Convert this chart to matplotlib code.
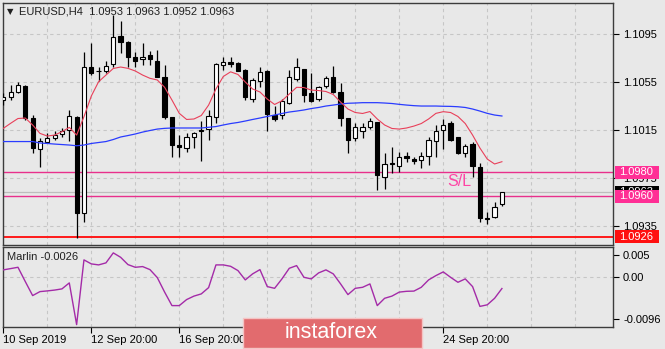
import matplotlib
matplotlib.use("Agg")
import matplotlib.pyplot as plt
from matplotlib.patches import Rectangle
from matplotlib.transforms import blended_transform_factory
import numpy as np

plt.rcParams['font.family'] = ['Liberation Sans', 'DejaVu Sans']

# ---- EURUSD H4 candles ----
opens = [1.10400, 1.10428, 1.10469, 1.10517, 1.10248, 1.09992, 1.10053, 1.10081, 1.10117, 1.10150,
         1.10256, 1.09461, 1.10678, 1.10646, 1.10642, 1.10698, 1.10933, 1.10881, 1.10756, 1.10742,
         1.10775, 1.10728, 1.10589, 1.10256, 1.10022, 1.09997, 1.10094, 1.10150, 1.10158, 1.10256,
         1.10692, 1.10719, 1.10711, 1.10650, 1.10406, 1.10561, 1.10644, 1.10275, 1.10275, 1.10378,
         1.10575, 1.10658, 1.10461, 1.10406, 1.10519, 1.10589, 1.10469, 1.10248, 1.10081, 1.10144,
         1.10178, 1.10214, 1.09761, 1.09873, 1.09853, 1.09936, 1.09906, 1.09900, 1.09936, 1.10058,
         1.10150, 1.10206, 1.10094, 1.09961, 1.10031, 1.09844, 1.09414, 1.09422, 1.09530]
highs = [1.10458, 1.10525, 1.10553, 1.10525, 1.10275, 1.10086, 1.10128, 1.10144, 1.10164, 1.10317,
         1.10267, 1.10803, 1.10878, 1.10678, 1.10728, 1.11108, 1.11061, 1.10892, 1.10803, 1.10875,
         1.10811, 1.10817, 1.10692, 1.10256, 1.10108, 1.10122, 1.10136, 1.10225, 1.10317, 1.10711,
         1.10756, 1.10756, 1.10719, 1.10656, 1.10581, 1.10678, 1.10650, 1.10350, 1.10406, 1.10650,
         1.10748, 1.10658, 1.10623, 1.10517, 1.10600, 1.10683, 1.10539, 1.10253, 1.10206, 1.10206,
         1.10253, 1.10219, 1.09956, 1.10011, 1.09969, 1.09969, 1.09928, 1.09969, 1.10094, 1.10192,
         1.10239, 1.10225, 1.10094, 1.10031, 1.10053, 1.09873, 1.09469, 1.09553, 1.09630]
lows = [1.10358, 1.10400, 1.10456, 1.10233, 1.09961, 1.09839, 1.10044, 1.10067, 1.10094, 1.10061,
        1.09253, 1.09386, 1.10608, 1.10558, 1.10628, 1.10678, 1.10789, 1.10678, 1.10678, 1.10692,
        1.10692, 1.10589, 1.10242, 1.09928, 1.09928, 1.09969, 1.10003, 1.09894, 1.10067, 1.10206,
        1.10650, 1.10678, 1.10638, 1.10400, 1.10386, 1.10506, 1.10144, 1.10225, 1.10242, 1.10364,
        1.10561, 1.10386, 1.10386, 1.10392, 1.10498, 1.10461, 1.10183, 1.09956, 1.10058, 1.10081,
        1.10158, 1.09650, 1.09658, 1.09789, 1.09803, 1.09886, 1.09864, 1.09836, 1.09858, 1.09928,
        1.09989, 1.10058, 1.09950, 1.09928, 1.09761, 1.09386, 1.09364, 1.09414, 1.09520]
closes = [1.10425, 1.10469, 1.10525, 1.10253, 1.10003, 1.10061, 1.10086, 1.10108, 1.10142, 1.10267,
          1.09456, 1.10678, 1.10623, 1.10642, 1.10686, 1.10928, 1.10881, 1.10756, 1.10725, 1.10756,
          1.10742, 1.10594, 1.10258, 1.10025, 1.10006, 1.10094, 1.10122, 1.10142, 1.10267, 1.10700,
          1.10714, 1.10698, 1.10644, 1.10422, 1.10567, 1.10631, 1.10283, 1.10242, 1.10394, 1.10589,
          1.10672, 1.10442, 1.10394, 1.10506, 1.10581, 1.10469, 1.10253, 1.10067, 1.10172, 1.10172,
          1.10225, 1.09775, 1.09867, 1.09864, 1.09928, 1.09919, 1.09894, 1.09936, 1.10067, 1.10142,
          1.10192, 1.10067, 1.09956, 1.10019, 1.09853, 1.09414, 1.09408, 1.09511, 1.09630]

# ---- moving averages (fast red, slow blue) ----
ma_fast = [1.10164, 1.10206, 1.10246, 1.10250, 1.10192, 1.10122, 1.10100, 1.10108, 1.10136, 1.10172,
           1.10108, 1.10261, 1.10433, 1.10553, 1.10608, 1.10663, 1.10675, 1.10664, 1.10642, 1.10608,
           1.10581, 1.10567, 1.10506, 1.10400, 1.10289, 1.10238, 1.10242, 1.10271, 1.10358, 1.10492,
           1.10596, 1.10635, 1.10613, 1.10550, 1.10492, 1.10467, 1.10408, 1.10363, 1.10394, 1.10450,
           1.10506, 1.10504, 1.10483, 1.10479, 1.10471, 1.10446, 1.10383, 1.10325, 1.10296, 1.10288,
           1.10304, 1.10242, 1.10192, 1.10163, 1.10158, 1.10167, 1.10183, 1.10204, 1.10242, 1.10289,
           1.10303, 1.10296, 1.10263, 1.10204, 1.10108, 1.10000, 1.09908, 1.09867, 1.09886]
ma_slow = [1.10054, 1.10054, 1.10054, 1.10054, 1.10054, 1.10042, 1.10038, 1.10033, 1.10029, 1.10025,
           1.10019, 1.10025, 1.10038, 1.10046, 1.10054, 1.10071, 1.10092, 1.10104, 1.10117, 1.10133,
           1.10146, 1.10158, 1.10164, 1.10167, 1.10167, 1.10167, 1.10167, 1.10167, 1.10173, 1.10179,
           1.10192, 1.10204, 1.10213, 1.10225, 1.10238, 1.10250, 1.10263, 1.10275, 1.10288, 1.10300,
           1.10308, 1.10317, 1.10329, 1.10338, 1.10350, 1.10358, 1.10367, 1.10373, 1.10375, 1.10378,
           1.10378, 1.10378, 1.10375, 1.10371, 1.10364, 1.10358, 1.10353, 1.10350, 1.10350, 1.10350,
           1.10348, 1.10347, 1.10344, 1.10338, 1.10325, 1.10308, 1.10289, 1.10275, 1.10267]

# ---- Marlin oscillator ----
marlin = [0.00164, 0.00193, 0.00223, -0.00102, -0.00420, -0.00330, -0.00314, -0.00295, -0.00268, -0.00132,
          -0.01080, 0.00391, 0.00300, 0.00277, 0.00323, 0.00550, 0.00450, 0.00284, 0.00223, 0.00239,
          0.00170, -0.00011, -0.00341, -0.00648, -0.00648, -0.00511, -0.00432, -0.00382, -0.00239, 0.00277,
          0.00277, 0.00245, 0.00148, -0.00064, 0.00073, 0.00170, -0.00216, -0.00255, -0.00041, 0.00200,
          0.00261, -0.00005, -0.00041, 0.00095, 0.00164, 0.00073, -0.00155, -0.00398, -0.00255, -0.00232,
          -0.00155, -0.00648, -0.00482, -0.00432, -0.00341, -0.00323, -0.00318, -0.00232, -0.00064, 0.00034,
          0.00118, -0.00005, -0.00118, -0.00041, -0.00216, -0.00666, -0.00630, -0.00482, -0.00260]

date_ticks = [0, 12, 24, 60]
date_labels = ['10 Sep 2019', '12 Sep 20:00', '16 Sep 20:00', '24 Sep 20:00']
price_ticks = [1.1095, 1.1055, 1.1015, 1.0975, 1.0935]
marlin_ticks = [0.005, 0.0, -0.0096]
marlin_tick_labels = ['0.005', '0.00', '-0.0096']

stop_level = 1.0980
entry_level = 1.0960
target_level = 1.0926
bid = 1.0963

W, H = 665, 349
BG = '#e8e8e8'
GRID = '#c6c6c6'
FRAME = '#3c3c3c'


def fx(px):
    return px / W


def fy(py):
    return 1 - py / H


fig = plt.figure(figsize=(W / 100, H / 100), dpi=100, facecolor=BG)
ax = fig.add_axes([fx(2.7), fy(245), fx(613.3) - fx(2.7), fy(2.7) - fy(245)], facecolor=BG)
ax2 = fig.add_axes([fx(2.7), fy(327.3), fx(613.3) - fx(2.7), fy(247.3) - fy(327.3)], facecolor=BG)

xlim = (-0.082, 83.19)
for a in (ax, ax2):
    a.set_xlim(*xlim)
    for s in a.spines.values():
        s.set_color(FRAME)
        s.set_linewidth(1.0)
    for gx in range(6, 84, 6):
        a.axvline(gx, color=GRID, lw=0.8, ls=(0, (3, 3)), zorder=0)

ax.set_ylim(1.09192, 1.11211)
ax2.set_ylim(-0.01141, 0.00677)

for p in price_ticks:
    ax.axhline(p, color=GRID, lw=0.8, ls=(0, (3, 3)), zorder=0)
ax2.axhline(0.0, color=GRID, lw=0.8, ls=(0, (3, 3)), zorder=0)

# levels
ax.axhline(bid, color='#bdbdbd', lw=0.9, zorder=1)
ax.axhline(stop_level, color='#e8308c', lw=1.0, zorder=2)
ax.axhline(entry_level, color='#e8308c', lw=1.0, zorder=2)
ax.axhline(target_level, color='#ff1a1a', lw=1.4, zorder=2)

# candles
o = np.array(opens)
h = np.array(highs)
l = np.array(lows)
c = np.array(closes)
xs = np.arange(len(o))
up = c >= o
ax.vlines(xs, l, h, color='black', lw=0.9, zorder=3)
body_lo = np.minimum(o, c)
body_h = np.maximum(np.abs(c - o), 0.00002)
ax.bar(xs, body_h, bottom=body_lo, width=0.58,
       color=np.where(up, 'white', 'black'), edgecolor='black', linewidth=0.8, zorder=4)

# moving averages
ax.plot(xs, ma_slow, color='#2a3cff', lw=0.9, zorder=5)
ax.plot(xs, ma_fast, color='#e8405a', lw=0.8, zorder=5)

ax.text(60.6, 1.09717, 'S/L', color='#ff45a5', fontsize=11.5, va='center', ha='left', zorder=6)

# price axis
ax.yaxis.tick_right()
ax.set_yticks(price_ticks)
ax.set_yticklabels([f'{p:.4f}' for p in price_ticks])
ax.tick_params(axis='y', length=4, width=0.8, pad=3, labelsize=8, colors='black', direction='out')
ax.set_xticks([])

# level boxes on the price axis, each stacked above the previous one
box_tr = blended_transform_factory(fig.transFigure, ax.transData)
box_h = 13 / 12000


def level_box(val, face, label, z):
    ax.add_patch(Rectangle((fx(615), val - box_h / 2), fx(659) - fx(615), box_h,
                           transform=box_tr, facecolor=face, edgecolor='none',
                           clip_on=False, zorder=z))
    ax.text(fx(619.5), val, label, transform=box_tr, color='white', fontsize=8,
            va='center', ha='left', clip_on=False, zorder=z + 0.5)


level_box(bid, 'black', f'{bid:.4f}', 7)
level_box(stop_level, '#ff2f95', f'{stop_level:.4f}', 8)
level_box(entry_level, '#ff2f95', f'{entry_level:.4f}', 9)
level_box(target_level, '#ff1010', f'{target_level:.4f}', 10)

# oscillator
ax2.plot(xs, marlin, color='#a42ba8', lw=1.0, zorder=3)
ax2.yaxis.tick_right()
ax2.set_yticks(marlin_ticks)
ax2.set_yticklabels(marlin_tick_labels)
ax2.tick_params(axis='y', length=4, width=0.8, pad=3, labelsize=8, colors='black', direction='out')
ax2.set_xticks(date_ticks)
ax2.set_xticklabels(date_labels)
for t in ax2.get_xticklabels():
    t.set_ha('left')
ax2.tick_params(axis='x', length=4, width=0.8, pad=1.5, labelsize=8, colors='black', direction='out')
ax2.text(fx(7), fy(257.5), f'Marlin {marlin[-1]:.4f}', transform=fig.transFigure,
         fontsize=8, va='center', ha='left', color='#202020')

# header
fig.text(fx(6.5), fy(11.5), '\u25bc', fontsize=6, va='center', ha='left', color='#202020',
         family=['DejaVu Sans'])
fig.text(fx(19), fy(12), f'EURUSD,H4  {opens[-1]:.4f} {highs[-1]:.4f} {lows[-1]:.4f} {closes[-1]:.4f}',
         fontsize=8, va='center', ha='left', color='#202020')

# brand badge
fig.add_artist(Rectangle((fx(243), fy(347.5)), fx(422) - fx(243), fy(317.5) - fy(347.5),
                         transform=fig.transFigure, facecolor='#e26b6e', edgecolor='#f4c4c4',
                         lw=1.0, zorder=10))
fig.text(fx(331.5), fy(333), 'instaforex', fontsize=15.5, color='white', ha='center', va='center',
         zorder=11)

fig.savefig('out.png', dpi=100, facecolor=BG)
